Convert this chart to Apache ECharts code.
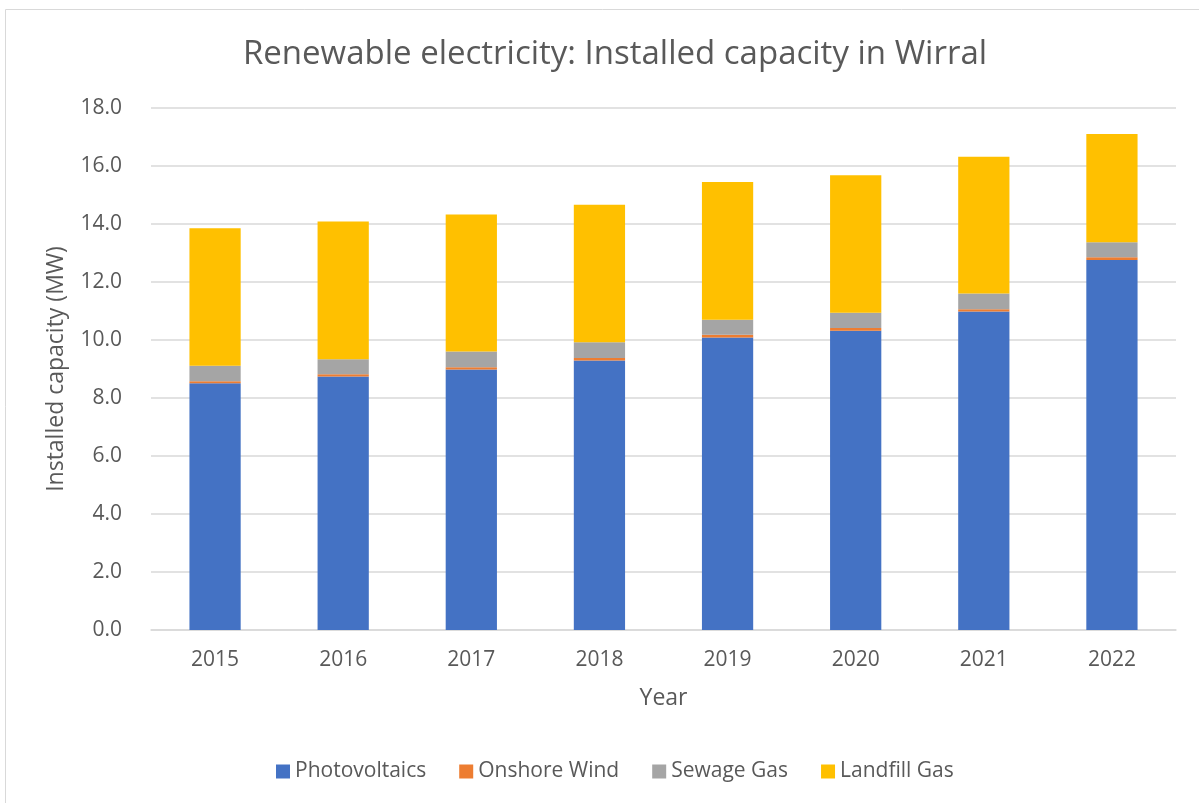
<!DOCTYPE html>
<html>
<head>
<meta charset="utf-8">
<style>
  html, body { margin: 0; padding: 0; background: #fff; }
  #container { width: 1199px; height: 803px; }
</style>
<script src="https://cdn.jsdelivr.net/npm/echarts@6/dist/echarts.min.js"></script>
</head>
<body>
<div id="container"></div>
<script>
var dom = document.getElementById("container");
var myChart = echarts.init(dom);
var option;

var years = ['2015', '2016', '2017', '2018', '2019', '2020', '2021', '2022'];
var photovoltaics = [8.51, 8.74, 8.98, 9.29, 10.09, 10.32, 10.98, 12.76];
var onshoreWind = [0.07, 0.08, 0.08, 0.09, 0.09, 0.09, 0.08, 0.09];
var sewageGas = [0.53, 0.52, 0.54, 0.54, 0.52, 0.53, 0.54, 0.52];
var landfillGas = [4.74, 4.75, 4.73, 4.74, 4.75, 4.74, 4.72, 3.73];

var textColor = '#595959';
var fontFam = '"Open Sans", "Liberation Sans", sans-serif';

function barSeries(name, data, color) {
    return {
        name: name,
        type: 'bar',
        stack: 'total',
        barWidth: '40%',
        itemStyle: { color: color },
        data: data
    };
}

option = {
    animation: false,
    textStyle: { fontFamily: fontFam, color: textColor },
    graphic: [{
        type: 'rect',
        shape: { x: 5.5, y: 9.5, width: 1200, height: 800 },
        style: { fill: 'none', stroke: '#d9d9d9', lineWidth: 1 },
        silent: true
    }],
    title: {
        text: 'Renewable electricity: Installed capacity in Wirral',
        left: 610,
        textAlign: 'center',
        top: 33,
        textStyle: { fontFamily: fontFam, fontSize: 33, fontWeight: 'normal', color: textColor }
    },
    legend: {
        bottom: 16,
        left: 271,
        itemWidth: 14,
        itemHeight: 14,
        itemGap: 33,
        icon: 'rect',
        textStyle: { fontFamily: fontFam, fontSize: 21, color: textColor },
        data: ['Photovoltaics', 'Onshore Wind', 'Sewage Gas', 'Landfill Gas']
    },
    grid: {
        left: 151,
        right: 23,
        top: 108,
        bottom: 173
    },
    xAxis: {
        type: 'category',
        data: years,
        name: 'Year',
        nameLocation: 'middle',
        nameGap: 57,
        nameTextStyle: { fontFamily: fontFam, fontSize: 23, color: textColor },
        axisLine: { lineStyle: { color: '#d9d9d9', width: 1.5 } },
        axisTick: { show: false },
        axisLabel: { fontFamily: fontFam, fontSize: 21, color: textColor, margin: 20 }
    },
    yAxis: {
        type: 'value',
        min: 0,
        max: 18,
        interval: 2,
        name: 'Installed capacity (MW)',
        nameLocation: 'middle',
        nameGap: 83,
        nameTextStyle: { fontFamily: fontFam, fontSize: 23, color: textColor },
        axisLine: { show: false },
        axisTick: { show: false },
        splitLine: { lineStyle: { color: '#d9d9d9', width: 1.5 } },
        axisLabel: {
            fontFamily: fontFam,
            fontSize: 21,
            color: textColor,
            margin: 29,
            formatter: function (v) { return v.toFixed(1); }
        }
    },
    series: [
        barSeries('Photovoltaics', photovoltaics, '#4472c4'),
        barSeries('Onshore Wind', onshoreWind, '#ed7d31'),
        barSeries('Sewage Gas', sewageGas, '#a5a5a5'),
        barSeries('Landfill Gas', landfillGas, '#ffc000')
    ]
};

if (option && typeof option === 'object') {
    myChart.setOption(option);
}
</script>
</body>
</html>
